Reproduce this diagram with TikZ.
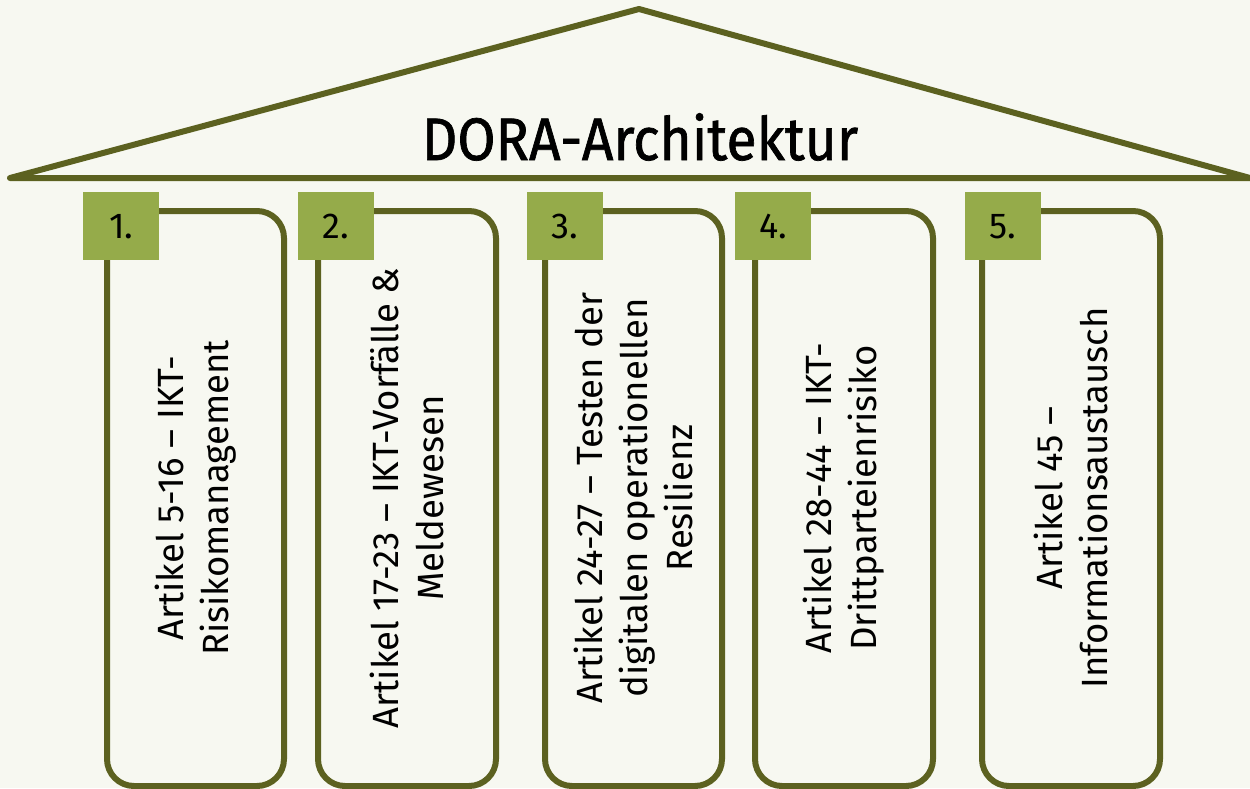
\documentclass[tikz,border=0pt]{standalone}
\usepackage{fontspec}
\setmainfont{Fira Sans}
\definecolor{bg}{HTML}{F7F8F1}
\definecolor{olive}{HTML}{5C6120}
\definecolor{leaf}{HTML}{95AB4A}
\begin{document}
\begin{tikzpicture}[x=1pt,y=-1pt,
  roof/.style={draw=olive,line width=6pt,line join=round,line cap=round},
  pillar/.style={draw=olive,line width=6pt,rounded corners=27pt},
  numbox/.style={fill=leaf,draw=none,inner sep=0pt,minimum width=76pt,minimum height=68pt,anchor=north west,font=\fontsize{36}{42}\selectfont},
  pillartext/.style={rotate=90,align=center,font=\fontsize{36.5}{45}\selectfont,inner sep=0pt},
  titletext/.style={font=\fontsize{60}{70}\selectfont\addfontfeatures{FakeBold=1.2},xscale=0.92,inner sep=0pt}]
\fill[bg] (0,0) rectangle (1250,788);
\useasboundingbox (0,0) rectangle (1250,788);
% roof
\coordinate (rl) at (10,178);
\coordinate (rt) at (639,9);
\coordinate (rr) at (1250,178);
\draw[roof] (rl) -- (rt) -- (rr) -- cycle;
\node[titletext] (title) at (640,137) {DORA-Architektur};
% pillars
\foreach \i/\l/\r/\s/\t in {
  1/107/284/83/{Artikel 5-16 – IKT-\\Risikomanagement},
  2/318/496/298/{Artikel 17-23 – IKT-Vorfälle \&\\Meldewesen},
  3/545/722/527/{Artikel 24-27 – Testen der\\digitalen operationellen\\Resilienz},
  4/755/933/735/{Artikel 28-44 – IKT-\\Drittparteienrisiko},
  5/982/1160/965/{Artikel 45 –\\Informationsaustausch}}{
  \draw[pillar] (\l,786) -- (\l,211) -- (\r,211) -- (\r,786) -- cycle;
  \node[pillartext] (p\i) at ({(\l+\r)/2},498) {\t};
  \node[numbox] (n\i) at (\s,192) {\i.};
}
\end{tikzpicture}
\end{document}
